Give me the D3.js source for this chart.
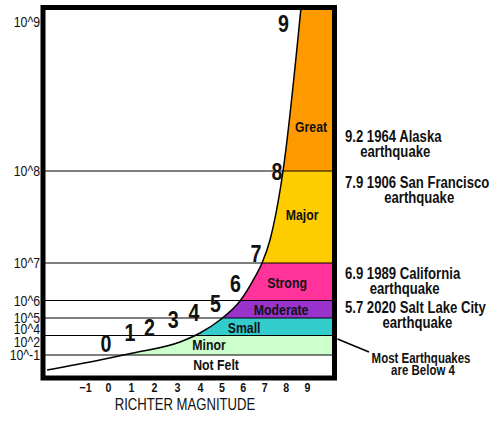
<!DOCTYPE html>
<html><head><meta charset="utf-8">
<script src="https://cdn.jsdelivr.net/npm/d3@7/dist/d3.min.js"></script>
<style>
body{margin:0;background:#fff}
svg{display:block}
text{font-family:"Liberation Sans",Arial,sans-serif;fill:#111}
</style>
</head><body><div id="chart"></div>
<script>
// ---- data ----
const magnitudeTicks = [-1,0,1,2,3,4,5,6,7,8,9];
const energyTicks = [9,8,7,6,5,4,2,-1];
const bandNames = ["Not Felt","Minor","Small","Moderate","Strong","Major","Great"];
const bandLow = [-2.5,-1,3,5,6,7,8];
const bandHigh = [-1,3,5,6,7,8,9.08];
const bandColors = ["#ffffff","#ccffcc","#33cccc","#9933cc","#ff3399","#ffcc00","#ff9900"];
const bandLabelMag = [4.75,4.42,6.06,7.79,8.07,8.77,9.19];
const bandLabelEnergy = [-1.65,1.31,4.09,5.46,6.47,7.52,8.30];
const curveMag = [-2.65,-0.35,1.09,3.13,4,4.93,5.87,6.57,6.9,7.27,7.88,8.72];
const curveEnergy = [-1.98,-1.33,-0.54,2,3.38,4.82,5.97,6.63,7,7.25,8,9.08];
const curveLabels = ["0","1","2","3","4","5","6","7","8","9"];
const curveLabelMag = [-0.09,0.96,1.80,2.83,3.74,4.72,5.66,6.62,7.6,7.9];
const curveLabelEnergy = [-0.31,2.15,2.92,4.09,4.73,5.34,6.23,7.01,7.90,8.93];
const quakeMag = ["9.2","7.9","6.9","5.7"];
const quakeYear = ["1964","1906","1989","2020"];
const quakePlace = ["Alaska","San Francisco","California","Salt Lake City"];
const quakeEnergy = [8.23,7.88,6.71,5.63];
const noteLines = ["Most Earthquakes","are Below 4"];
const xTitle = "RICHTER MAGNITUDE";

// ---- layout ----
const W = 500, H = 430;
const pLeft = 43, pRight = 334.5, pTop = 7.5, pBottom = 378;
const NARROW = 0.82;
const x = d3.scaleLinear().domain([-1,4,9]).range([85,200,307]);
const y = d3.scaleLinear().domain([-2.5,-1,2,4,5,6,7,8,9,9.08])
  .range([pBottom,355,342,329,318,300.5,263,171,22,pTop]);

// condense text horizontally (narrow face look)
function narrow(sel){
  sel.each(function(){
    const t = d3.select(this);
    const tx = +t.attr("x") || 0, ty = +t.attr("y") || 0;
    t.attr("x", null).attr("y", null)
     .attr("transform", `translate(${tx},${ty}) scale(${NARROW},1)`);
  });
  return sel;
}

const svg = d3.select("#chart").append("svg").attr("width",W).attr("height",H);

const curvePts = curveMag.map((m,i)=>[x(m), y(curveEnergy[i])]);
const lineGen = d3.line().curve(d3.curveMonotoneX);
const curvePath = lineGen(curvePts);

svg.append("clipPath").attr("id","underCurve").append("path")
  .attr("d", curvePath + `L${pRight},${pTop}L${pRight},${pBottom}L${curvePts[0][0]},${pBottom}Z`);

// bands
svg.append("g").attr("clip-path","url(#underCurve)")
  .selectAll("rect").data(bandNames).join("rect")
  .attr("x", pLeft).attr("width", pRight-pLeft)
  .attr("y", (d,i)=>y(bandHigh[i]))
  .attr("height", (d,i)=>y(bandLow[i]) - y(bandHigh[i]))
  .attr("fill", (d,i)=>bandColors[i]);

// boundary lines
svg.append("g").selectAll("line").data(bandLow.slice(1)).join("line")
  .attr("x1", pLeft).attr("x2", pRight)
  .attr("y1", d=>y(d)).attr("y2", d=>y(d))
  .attr("stroke","#000").attr("stroke-width",1.2);

// curve
svg.append("path").attr("d", curvePath).attr("fill","none")
  .attr("stroke","#000").attr("stroke-width",1.5);

// frame
svg.append("rect").attr("x",pLeft).attr("y",pTop)
  .attr("width",pRight-pLeft).attr("height",pBottom-pTop)
  .attr("fill","none").attr("stroke","#000").attr("stroke-width",5);

// band labels
narrow(svg.append("g").selectAll("text").data(bandNames).join("text")
  .attr("x",(d,i)=>x(bandLabelMag[i])).attr("y",(d,i)=>y(bandLabelEnergy[i]))
  .attr("dy","0.35em").attr("text-anchor","middle")
  .attr("font-size",15).attr("font-weight","bold").text(d=>d));

// magnitude numbers along the curve
narrow(svg.append("g").selectAll("text").data(curveLabels).join("text")
  .attr("x",(d,i)=>x(curveLabelMag[i])).attr("y",(d,i)=>y(curveLabelEnergy[i]))
  .attr("text-anchor","middle").attr("font-size",24).attr("font-weight","bold").text(d=>d));

// axes
const xAxis = svg.append("g").attr("transform",`translate(0,${pBottom})`)
  .call(d3.axisBottom(x).tickValues(magnitudeTicks).tickFormat(d3.format("d")).tickSize(0).tickPadding(5));
xAxis.select(".domain").remove();
xAxis.attr("font-family",null).attr("font-size",null);
narrow(xAxis.selectAll("text").attr("font-size",13).attr("font-weight","bold"));

const yAxis = svg.append("g").attr("transform",`translate(${pLeft},0)`)
  .call(d3.axisLeft(y).tickValues(energyTicks).tickFormat(d=>"10^"+d).tickSize(0).tickPadding(3));
yAxis.select(".domain").remove();
yAxis.attr("font-family",null).attr("font-size",null);
narrow(yAxis.selectAll("text").attr("font-size",15));
svg.selectAll(".tick text").attr("fill","#111");

narrow(svg.append("text").attr("x",185).attr("y",410).attr("text-anchor","middle")
  .attr("font-size",16).text(xTitle));

// quake annotations
const qg = svg.append("g");
quakeMag.forEach((m,i)=>{
  const yy = y(quakeEnergy[i]);
  const t1 = qg.append("text").attr("x",345).attr("y",yy).attr("dy","0.35em")
    .attr("font-size",16).attr("font-weight","bold")
    .text(`${m} ${quakeYear[i]} ${quakePlace[i]}`);
  const w = t1.node().getComputedTextLength() * NARROW;
  narrow(t1);
  narrow(qg.append("text").attr("x",345 + w/2 + 2).attr("y",yy+15).attr("dy","0.35em")
    .attr("text-anchor","middle").attr("font-size",16).attr("font-weight","bold")
    .text("earthquake"));
});

// note
svg.append("line").attr("x1",pRight+3).attr("y1",339).attr("x2",369).attr("y2",352)
  .attr("stroke","#000").attr("stroke-width",1.5);
narrow(svg.append("g").selectAll("text").data(noteLines).join("text")
  .attr("x",(d,i)=>421+i*2).attr("y",(d,i)=>358+i*12.5).attr("dy","0.35em")
  .attr("text-anchor","middle").attr("font-size",14).attr("font-weight","bold").text(d=>d));
</script>
</body></html>
